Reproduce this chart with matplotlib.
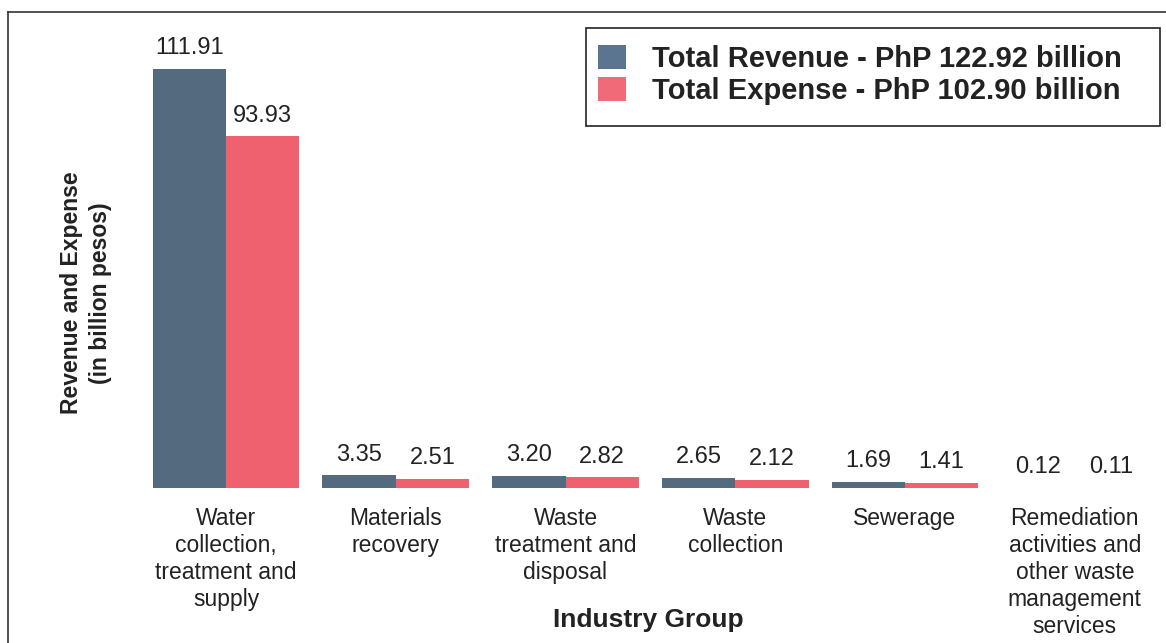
import numpy as np
import matplotlib
matplotlib.use("Agg")
import matplotlib.pyplot as plt
from matplotlib.patches import Rectangle, Patch
from matplotlib.lines import Line2D

plt.rcParams['font.family'] = ['Liberation Sans', 'DejaVu Sans']

# ------------------- Data: ---------------------------------------------------------
categories = [
    "Water\ncollection,\ntreatment and\nsupply",
    "Materials\nrecovery",
    "Waste\ntreatment and\ndisposal",
    "Waste\ncollection",
    "Sewerage",
    "Remediation\nactivities and\nother waste\nmanagement\nservices",
]
revenue = [111.91, 3.35, 3.20, 2.65, 1.69, 0.12]
expense = [93.93, 2.51, 2.82, 2.12, 1.41, 0.11]
revenue_label = "Total Revenue - PhP 122.92 billion"
expense_label = "Total Expense - PhP 102.90 billion"

REV_COLOR = '#536a7f'
EXP_COLOR = '#f0616f'

W, H = 1166, 643

# ------------------- Plotting: -----------------------------------------------------
fig = plt.figure(figsize=(W / 100, H / 100), dpi=100)

# axes placed in pixel terms (top-down y)
ax_left, ax_right, ax_top, ax_bottom = 130, 1166, 20, 488
ax = fig.add_axes([ax_left / W, (H - ax_bottom) / H,
                   (ax_right - ax_left) / W, (ax_bottom - ax_top) / H])

x = np.arange(len(categories))
width = 0.432
ax.bar(x - width / 2, revenue, width, color=REV_COLOR)
ax.bar(x + width / 2, expense, width, color=EXP_COLOR)

for xi, r, e in zip(x, revenue, expense):
    ax.annotate(f"{r:.2f}", (xi - width / 2, r), xytext=(0, 10.5),
                textcoords='offset points', ha='center', va='baseline',
                fontsize=17, color='#222222')
    ax.annotate(f"{e:.2f}", (xi + width / 2, e), xytext=(0, 10.5),
                textcoords='offset points', ha='center', va='baseline',
                fontsize=17, color='#222222')

spacing = 169.75
ax.set_xlim((ax_left - 226) / spacing, (ax_right - 226) / spacing)
ax.set_ylim(0, (ax_bottom - ax_top) / 3.744)
ax.set_xticks(x)
ax.set_xticklabels(categories, fontsize=16.5, linespacing=1.21, color='#222222')
ax.tick_params(axis='x', length=0, pad=14)
ax.set_yticks([])
for s in ax.spines.values():
    s.set_visible(False)
ax.patch.set_visible(False)

fig.text(648 / W, 1 - 620 / H, "Industry Group", ha='center', va='center',
         fontsize=19, fontweight='bold', color='#222222')
fig.text(86 / W, 1 - 293 / H, "Revenue and Expense\n(in billion pesos)",
         rotation=90, ha='center', va='center', multialignment='center',
         fontsize=16.5, fontweight='bold', linespacing=1.3, color='#222222')

# legend with a hand-drawn frame
handles = [Patch(facecolor='#5b7590', edgecolor='none'),
           Patch(facecolor='#f06a78', edgecolor='none')]
fig.legend(handles, [revenue_label, expense_label], loc='upper left',
           bbox_to_anchor=(598 / W, 1 - 45 / H), frameon=False,
           prop={'size': 21, 'weight': 'bold'}, handlelength=0.95,
           handleheight=0.9, handletextpad=0.9, labelspacing=0.12,
           borderpad=0, borderaxespad=0, labelcolor='#222222')
fig.add_artist(Rectangle((586 / W, 1 - 126 / H), (1160 - 586) / W, (126 - 28) / H,
                         transform=fig.transFigure, fill=False,
                         edgecolor='#222222', linewidth=1.2))

# outer frame (top and left edges visible)
fig.add_artist(Line2D([8 / W, 1], [1 - 12 / H, 1 - 12 / H],
                      transform=fig.transFigure, color='#333333', linewidth=1.2))
fig.add_artist(Line2D([8 / W, 8 / W], [0, 1 - 12 / H],
                      transform=fig.transFigure, color='#333333', linewidth=1.2))

fig.savefig('out.png', dpi=100)
